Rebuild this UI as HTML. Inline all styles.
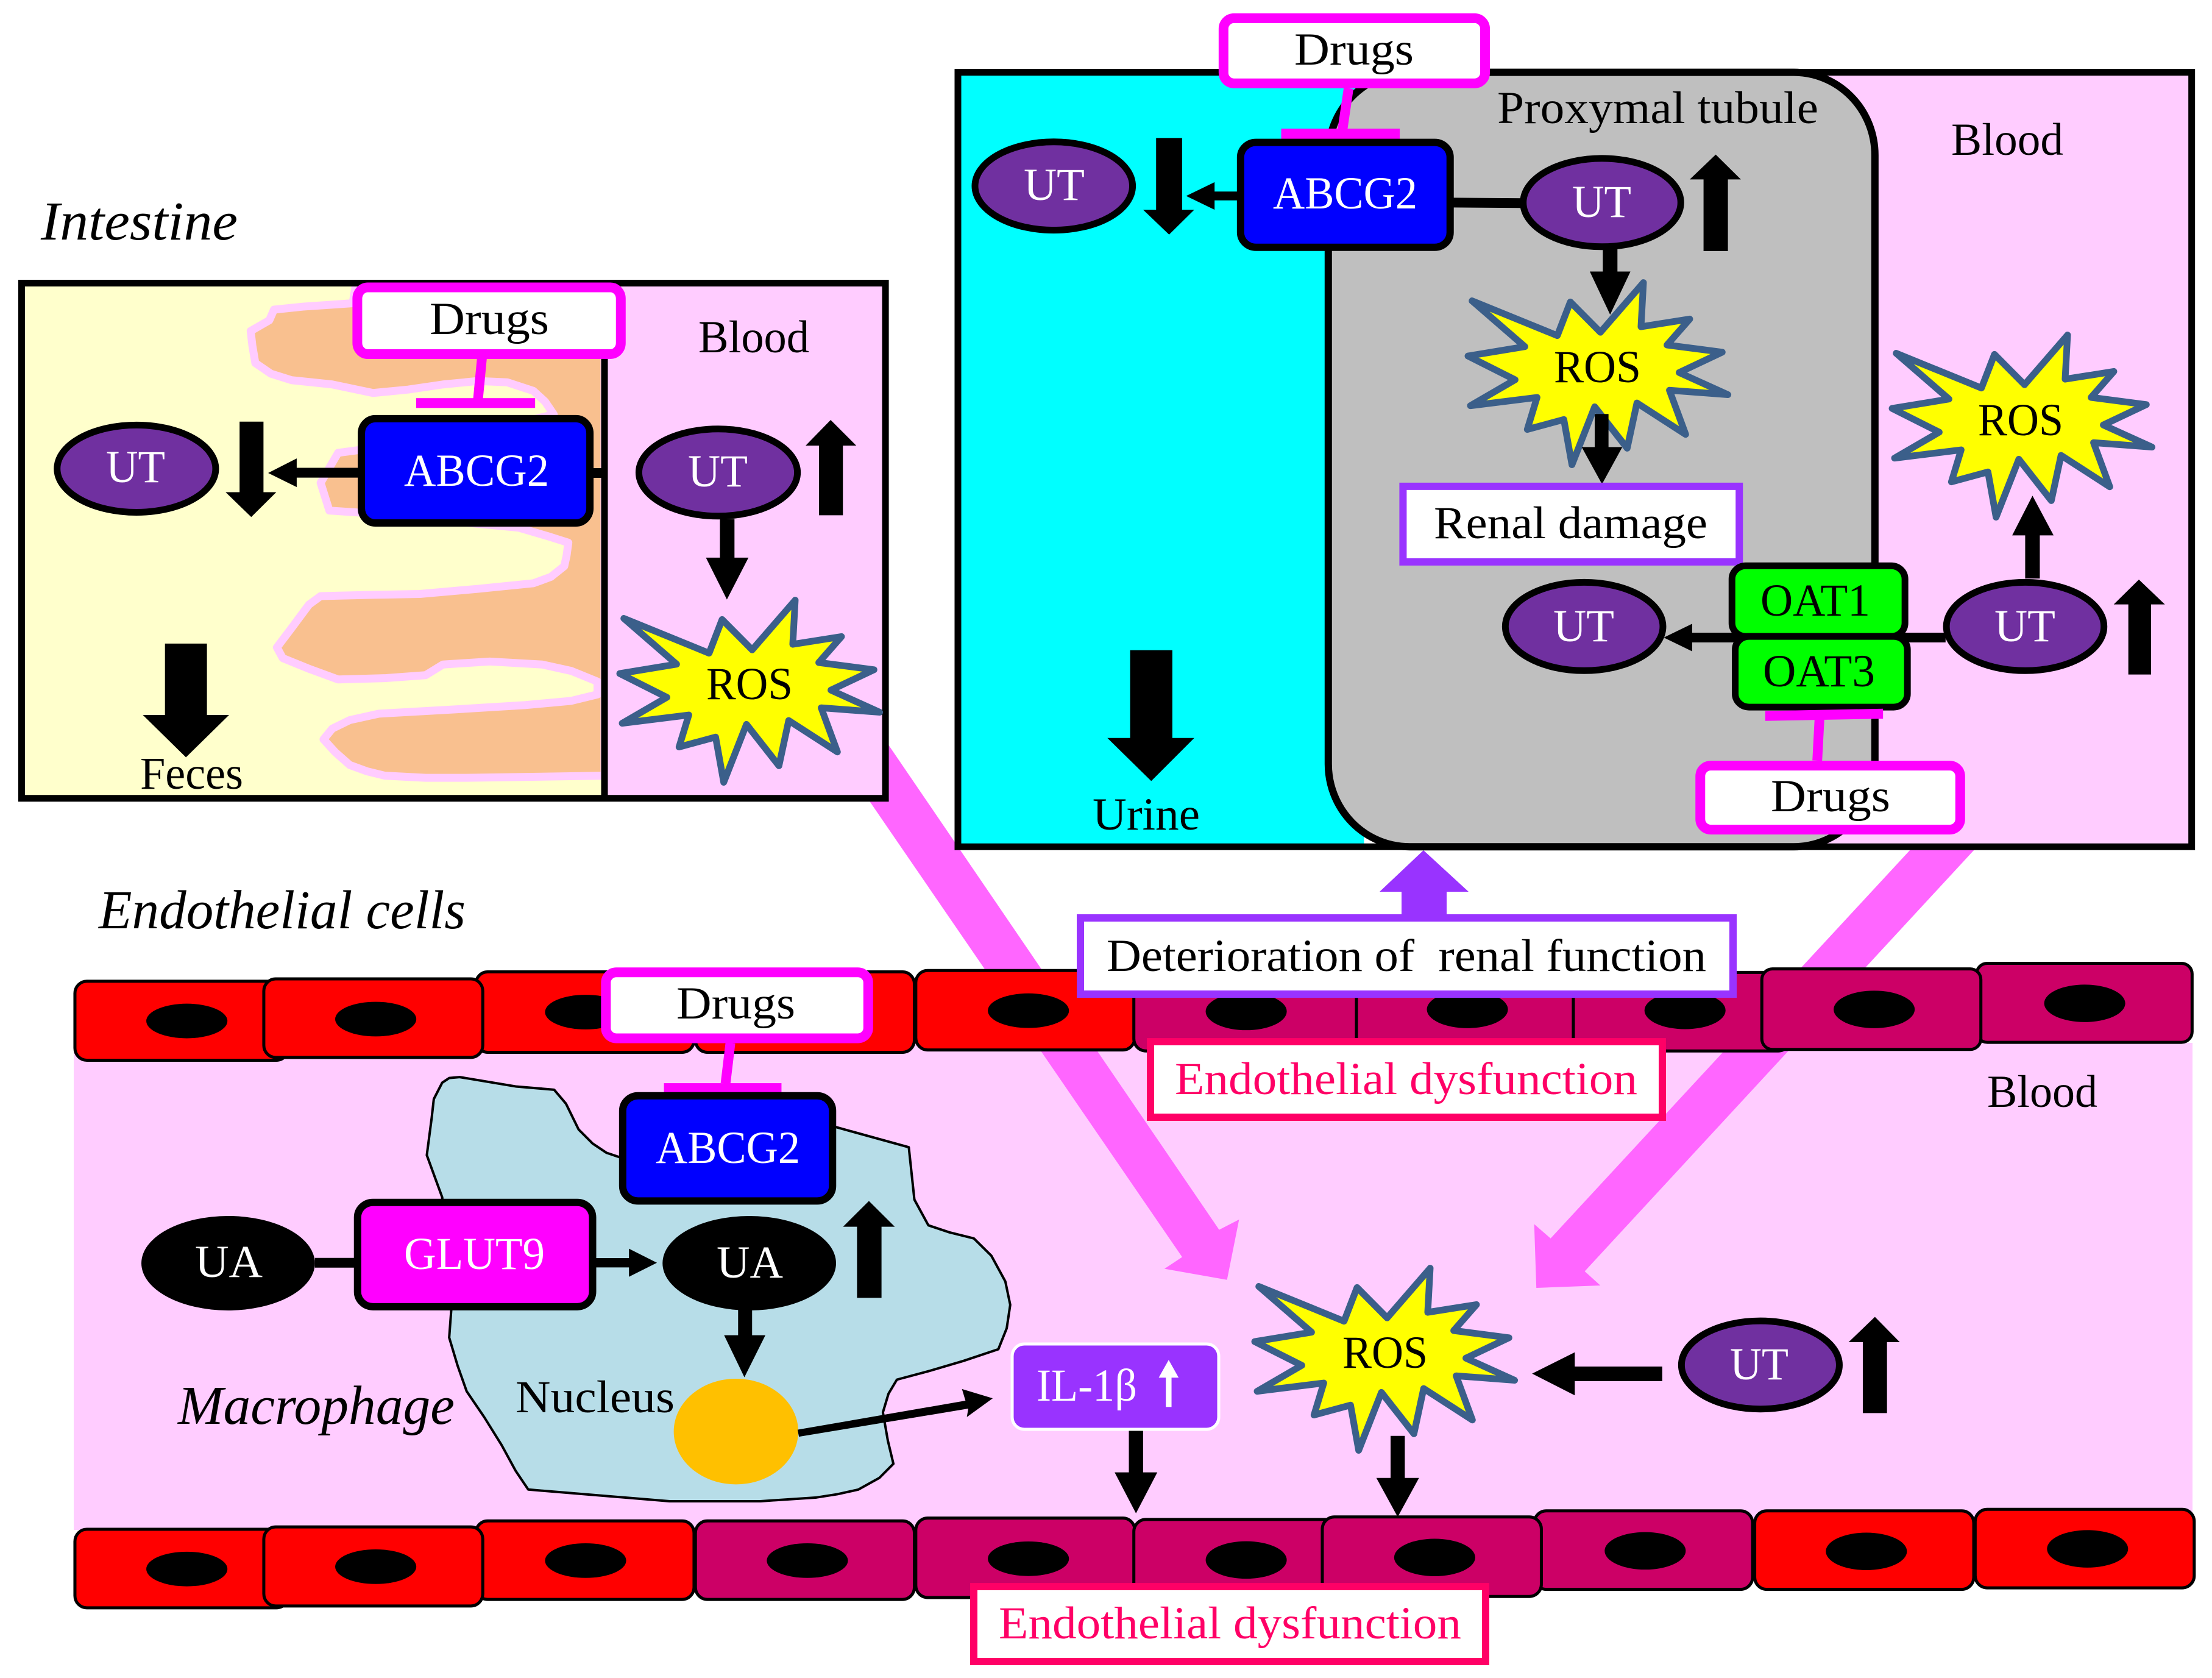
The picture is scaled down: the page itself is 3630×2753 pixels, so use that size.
<!DOCTYPE html>
<html><head><meta charset="utf-8"><style>
html,body{margin:0;padding:0;background:#fff}
svg{display:block}
svg *{vector-effect:non-scaling-stroke}
text{font-family:"Liberation Serif",serif;font-size:75px;fill:#000}
.i{font-style:italic;font-size:90px}
.w{fill:#fff}
.r{fill:#FF0066}
.u{fill:#7030A0;stroke:#000;stroke-width:11}
.a{fill:#000}
.d{fill:#fff;stroke:#FF00FF;stroke-width:16}
.m{fill:#FF00FF}
.s{fill:#FFFF00;stroke:#3B5F8A;stroke-width:11;stroke-linejoin:round}
.c{stroke:#000;stroke-width:5}
.red{fill:#FF0000}.pur{fill:#CC0066}
.b{fill:#0000FF;stroke:#000;stroke-width:12}
.g{fill:#00FF00;stroke:#000;stroke-width:11}
</style></head><body>
<svg xmlns="http://www.w3.org/2000/svg" width="3630" height="2753" viewBox="0 0 3630 2753">
<defs>
<polygon id="st" class="s" transform="matrix(1.3329,0,0,0.9056,1540,0)" points="657,545 762,608 778,547 815,602 868,512 865,592 925,578 897,625 965,638 912,675 972,715 900,707 920,787 860,730 848,812 808,737 780,842 770,760 725,778 737,720 655,735 710,688 652,645 722,628"/>
</defs>
<rect width="3630" height="2753" fill="#fff"/>
<!-- blood band -->
<rect x="121" y="1711" width="3477" height="799" fill="#FFCCFF"/>
<!-- large arrows -->
<polygon fill="#FF66FF" points="1400,1137 2000.7,2017.6 2033.4,2000.8 2013.6,2099.8 1910.9,2081.6 1940,2062.4 1345,1195"/>
<polygon fill="#FF66FF" points="3253,1380 2600.6,2085.7 2626.3,2109 2521.2,2113 2517.7,2008.4 2544.6,2031.7 3148,1380"/>
<polygon fill="#9933FF" points="2336,1395 2410,1463 2374,1463 2374,1510 2300,1510 2300,1463 2264,1463"/>

<!-- cells left -->
<g transform="matrix(1.148,0,0,0.7672,100,1550)">
<g class="c">
<rect class="red" x="20" y="78" width="305" height="169" rx="17" ry="26"/>
<rect class="red" x="593" y="58" width="312" height="172" rx="17" ry="26"/>
<rect class="red" x="290" y="73" width="313" height="168" rx="17" ry="26"/>
<rect class="red" x="907" y="58" width="313" height="172" rx="17" ry="26"/>
<rect class="red" x="1222" y="55" width="313" height="170" rx="17" ry="26"/>
<rect class="red" x="20" y="1250" width="305" height="168" rx="17" ry="26"/>
<rect class="red" x="593" y="1232" width="312" height="168" rx="17" ry="26"/>
<rect class="red" x="290" y="1245" width="313" height="169" rx="17" ry="26"/>
<rect class="pur" x="907" y="1232" width="313" height="168" rx="17" ry="26"/>
<rect class="pur" x="1222" y="1226" width="313" height="170" rx="17" ry="26"/>
</g>
<ellipse cx="180" cy="163" rx="58" ry="37"/><ellipse cx="450" cy="159" rx="58" ry="37"/><ellipse cx="750" cy="144" rx="58" ry="37"/><ellipse cx="1383" cy="141" rx="58" ry="37"/>
<ellipse cx="180" cy="1335" rx="58" ry="37"/><ellipse cx="450" cy="1330" rx="58" ry="37"/><ellipse cx="750" cy="1317" rx="58" ry="37"/><ellipse cx="1067" cy="1317" rx="58" ry="37"/><ellipse cx="1383" cy="1313" rx="58" ry="37"/>
</g>
<!-- cells right -->
<g transform="matrix(1.1671,0,0,0.831,1800,1450)">
<g class="c">
<rect class="pur" x="52" y="175" width="313" height="155" rx="17" ry="24"/>
<rect class="pur" x="365" y="175" width="305" height="155" rx="0" ry="0"/>
<rect class="pur" x="670" y="175" width="305" height="155" rx="17" ry="24"/>
<rect class="pur" x="1237" y="157" width="303" height="156" rx="15" ry="21"/>
<rect class="pur" x="935" y="168" width="308" height="159" rx="15" ry="21"/>
<rect class="pur" x="52" y="1255" width="288" height="155" rx="17" ry="24"/>
<rect class="pur" x="615" y="1238" width="307" height="155" rx="17" ry="24"/>
<rect class="pur" x="317" y="1250" width="308" height="157" rx="17" ry="24"/>
<rect class="red" x="925" y="1238" width="308" height="155" rx="17" ry="24"/>
<rect class="red" x="1235" y="1235" width="308" height="155" rx="17" ry="24"/>
</g>
<ellipse cx="210" cy="252" rx="57" ry="37"/><ellipse cx="521" cy="248" rx="57" ry="37"/><ellipse cx="827" cy="250" rx="57" ry="37"/><ellipse cx="1093" cy="248" rx="57" ry="37"/><ellipse cx="1389" cy="236" rx="57" ry="37"/>
<ellipse cx="210" cy="1335" rx="57" ry="37"/><ellipse cx="475" cy="1330" rx="57" ry="37"/><ellipse cx="771" cy="1317" rx="57" ry="37"/><ellipse cx="1082" cy="1318" rx="57" ry="37"/><ellipse cx="1393" cy="1313" rx="57" ry="37"/>
</g>

<!-- Intestine -->
<g transform="matrix(0.9566,0,0,0.7015,0,280)">
<rect x="37" y="263" width="1000" height="1205" fill="#FFFFCC"/>
<rect x="1037" y="263" width="482" height="1205" fill="#FFCCFF"/>
<path fill="#F9C08F" stroke="#FFCCFF" stroke-width="13" stroke-linejoin="round" d="M605,310L520,318L470,325L462,350L430,375L433,410L438,450L465,475L500,490L570,500L640,520L700,512L760,500L820,492L870,495L915,515L935,540L950,570L800,620L580,660L550,730L565,795L620,800L890,835L940,855L975,870L972,900L968,925L945,950L915,965L820,978L720,990L640,992L550,995L530,1015L500,1070L475,1115L485,1140L530,1165L580,1190L660,1187L730,1180L760,1155L840,1148L930,1155L980,1170L1025,1195L1025,1225L980,1240L900,1250L780,1260L650,1270L600,1285L570,1305L555,1330L575,1360L600,1390L630,1405L660,1415L730,1420L800,1420L1037,1415L1037,270L610,270Z"/>
<rect x="37" y="263" width="1482" height="1205" fill="none" stroke="#000" stroke-width="11"/>
<line x1="1037" y1="263" x2="1037" y2="1468" stroke="#000" stroke-width="11"/>
<line x1="1015" y1="707" x2="1037" y2="707" stroke="#000" stroke-width="16"/>
<line x1="827" y1="435" x2="820" y2="535" stroke="#FF00FF" stroke-width="16"/>
<rect class="m" x="714" y="532" width="204" height="23"/>
<rect class="d" x="613" y="273" width="452" height="156" rx="18" ry="26"/>
<rect class="b" x="620" y="580" width="392" height="244" rx="24" ry="34"/>
<ellipse class="u" cx="234" cy="697" rx="136" ry="102"/>
<polygon class="a" points="411,587 452,587 452,752 474,752 431,810 387,752 411,752"/>
<polygon class="a" points="615,695 509,695 509,673 460,707 509,740 509,718 615,718"/>
<ellipse class="u" cx="1232" cy="706" rx="136" ry="102"/>
<polygon class="a" points="1405,806 1446,806 1446,643 1469,643 1425,583 1382,643 1405,643"/>
<polygon class="a" points="283,1106 355,1106 355,1273 393,1273 319,1372 245,1273 283,1273"/>
</g>
<use href="#st" transform="translate(-1392,521)"/>
<g transform="matrix(0.9566,0,0,0.7015,0,280)">
<polygon class="a" points="1235,815 1260,815 1260,905 1284,905 1247,1003 1211,905 1235,905"/>
</g>

<!-- Kidney -->
<g transform="matrix(1.3329,0,0,0.9056,1540,0)">
<rect x="24" y="131" width="500" height="1403" fill="#00FFFF"/>
<rect x="1000" y="131" width="543" height="1403" fill="#FFCCFF"/>
<rect x="480" y="131" width="673" height="1403" rx="100" ry="150" fill="#BFBFBF" stroke="#000" stroke-width="12"/>
<rect x="24" y="131" width="1519" height="1403" fill="none" stroke="#000" stroke-width="11"/>
<line x1="505" y1="160" x2="497" y2="240" stroke="#FF00FF" stroke-width="16"/>
<rect class="m" x="422" y="233" width="146" height="19"/>
<rect class="d" x="351" y="33" width="322" height="118" rx="13" ry="19"/>
<line x1="632" y1="367" x2="720" y2="368" stroke="#000" stroke-width="16"/>
<rect class="b" x="372" y="258" width="258" height="190" rx="19" ry="27"/>
<ellipse class="u" cx="142" cy="337" rx="97" ry="80"/>
<polygon class="a" points="268,250 300,250 300,380 315,380 284,425 252,380 268,380"/>
<polygon class="a" points="370,347 340,347 340,330 305,355 340,380 340,363 370,363"/>
<ellipse class="u" cx="817" cy="367" rx="97" ry="80"/>
<polygon class="a" points="942,455 972,455 972,325 988,325 957,280 925,325 942,325"/>
</g>
<use href="#st"/><use href="#st" transform="translate(696,86)"/>
<g transform="matrix(1.3329,0,0,0.9056,1540,0)">
<polygon class="a" points="818,450 836,450 836,492 852,492 827,570 802,492 818,492"/>
<polygon class="a" points="808,750 825,750 825,810 842,810 817,877 792,810 808,810"/>
<rect x="572" y="881" width="414" height="137" fill="#fff" stroke="#9933FF" stroke-width="12"/>
<line x1="925" y1="1155" x2="1240" y2="1155" stroke="#000" stroke-width="16"/>
<polygon class="a" points="928,1130 928,1180 893,1155"/>
<rect class="g" x="977" y="1025" width="213" height="128" rx="17" ry="24"/>
<rect class="g" x="981" y="1153" width="212" height="128" rx="17" ry="24"/>
<ellipse class="u" cx="795" cy="1135" rx="97" ry="80"/>
<ellipse class="u" cx="1338" cy="1135" rx="97" ry="80"/>
<polygon class="a" points="1465,1222 1493,1222 1493,1095 1510,1095 1478,1050 1447,1095 1465,1095"/>
<polygon class="a" points="1338,1048 1356,1048 1356,970 1373,970 1347,898 1322,970 1338,970"/>
<line x1="1085" y1="1295" x2="1082" y2="1378" stroke="#FF00FF" stroke-width="16"/>
<polygon class="m" points="1018,1288 1163,1284 1163,1302 1018,1306"/>
<rect class="d" x="938" y="1387" width="320" height="116" rx="13" ry="19"/>
<polygon class="a" points="236,1178 288,1178 288,1337 315,1337 262,1415 208,1337 236,1337"/>
</g>

<!-- Blood vessel contents -->
<g transform="matrix(1.148,0,0,0.7672,100,1550)">
<path fill="#B7DDE8" stroke="#000" stroke-width="4" stroke-linejoin="round" d="M570,283L650,303L705,310L722,340L740,395L760,425L780,445L800,455L1108,390L1212,433L1220,545L1240,600L1270,615L1305,628L1330,665L1350,720L1357,770L1352,820L1340,865L1290,890L1240,912L1195,930L1183,960L1175,1000L1182,1060L1190,1110L1170,1140L1140,1165L1110,1175L1080,1182L1000,1190L870,1190L668,1165L650,1125L630,1070L605,1010L580,955L567,900L555,840L558,780L545,540L523,450L530,370L533,330L545,295L555,285Z"/>
<line x1="957" y1="210" x2="950" y2="297" stroke="#FF00FF" stroke-width="16"/>
<rect class="m" x="862" y="296" width="168" height="20"/>
<rect class="d" x="779" y="59" width="375" height="141" rx="15" ry="22"/>
<rect class="b" x="803" y="323" width="300" height="225" rx="22" ry="32"/>
<line x1="363" y1="680" x2="422" y2="680" stroke="#000" stroke-width="16"/>
<ellipse cx="239" cy="681" rx="124" ry="101"/>
<rect x="424" y="551" width="336" height="223" rx="22" ry="32" fill="#FF00FF" stroke="#000" stroke-width="12"/>
<polygon class="a" points="763,670 812,670 812,650 852,680 812,710 812,690 763,690"/>
<ellipse cx="984" cy="681" rx="124" ry="101"/>
<polygon class="a" points="1138,755 1173,755 1173,603 1192,603 1155,548 1118,603 1138,603"/>
<polygon class="a" points="968,780 988,780 988,835 1007,835 977,925 948,835 968,835"/>
<ellipse cx="965" cy="1041" rx="89" ry="113" fill="#FFC000"/>
<polygon class="a" points="1053,1037 1293,975 1288,950 1332,970 1295,1010 1297,992 1055,1052"/>
</g>
<use href="#st" transform="translate(-350,1617)"/>
<rect x="1661" y="2205" width="339" height="140" rx="20" ry="20" fill="#9933FF" stroke="#fff" stroke-width="5"/>
<g transform="matrix(1.1671,0,0,0.831,1800,1450)">
<polygon class="a" points="45,1080 65,1080 65,1162 85,1162 55,1243 25,1162 45,1162"/>
<polygon class="a" points="413,1090 433,1090 433,1173 453,1173 423,1250 393,1173 413,1173"/>
<polygon class="a" points="795,953 672,953 672,925 612,967 672,1010 672,982 795,982"/>
<ellipse class="u" cx="933" cy="950" rx="111" ry="87"/>
<polygon class="a" points="1077,1045 1111,1045 1111,905 1129,905 1094,855 1057,905 1077,905"/>
<polygon points="97,1033 105,1033 105,975 115,975 101,940 87,975 97,975" fill="#fff"/>
</g>
<rect x="1888" y="1709" width="840" height="124" fill="#fff" stroke="#FF0066" stroke-width="12"/>
<rect x="1773" y="1506" width="1071" height="125" fill="#fff" stroke="#9933FF" stroke-width="12"/>
<rect x="1598" y="2603" width="840" height="123" fill="#fff" stroke="#FF0066" stroke-width="12"/>

<!-- Texts -->
<text class="i" x="67" y="393" textLength="323" lengthAdjust="spacingAndGlyphs">Intestine</text>
<text x="705" y="548" textLength="196" lengthAdjust="spacingAndGlyphs">Drugs</text>
<text x="1146" y="578" textLength="182" lengthAdjust="spacingAndGlyphs">Blood</text>
<text class="w" x="174" y="791" textLength="97" lengthAdjust="spacingAndGlyphs">UT</text>
<text class="w" x="663" y="797" textLength="238" lengthAdjust="spacingAndGlyphs">ABCG2</text>
<text class="w" x="1129" y="798" textLength="98" lengthAdjust="spacingAndGlyphs">UT</text>
<text x="1159" y="1147" textLength="142" lengthAdjust="spacingAndGlyphs">ROS</text>
<text x="230" y="1294" textLength="169" lengthAdjust="spacingAndGlyphs">Feces</text>

<text x="2124" y="106" textLength="196" lengthAdjust="spacingAndGlyphs">Drugs</text>
<text x="2457" y="202" textLength="527" lengthAdjust="spacingAndGlyphs">Proxymal tubule</text>
<text x="3202" y="254" textLength="184" lengthAdjust="spacingAndGlyphs">Blood</text>
<text class="w" x="1680" y="328" textLength="100" lengthAdjust="spacingAndGlyphs">UT</text>
<text class="w" x="2089" y="342" textLength="237" lengthAdjust="spacingAndGlyphs">ABCG2</text>
<text class="w" x="2580" y="356" textLength="97" lengthAdjust="spacingAndGlyphs">UT</text>
<text x="2550" y="627" textLength="143" lengthAdjust="spacingAndGlyphs">ROS</text>
<text x="2353" y="883" textLength="449" lengthAdjust="spacingAndGlyphs">Renal damage</text>
<text x="2889" y="1010" textLength="180" lengthAdjust="spacingAndGlyphs">OAT1</text>
<text x="2893" y="1126" textLength="184" lengthAdjust="spacingAndGlyphs">OAT3</text>
<text class="w" x="2549" y="1052" textLength="100" lengthAdjust="spacingAndGlyphs">UT</text>
<text class="w" x="3273" y="1052" textLength="100" lengthAdjust="spacingAndGlyphs">UT</text>
<text x="3246" y="714" textLength="140" lengthAdjust="spacingAndGlyphs">ROS</text>
<text x="2906" y="1331" textLength="196" lengthAdjust="spacingAndGlyphs">Drugs</text>
<text x="1793" y="1361" textLength="176" lengthAdjust="spacingAndGlyphs">Urine</text>

<text class="i" x="162" y="1523" textLength="602" lengthAdjust="spacingAndGlyphs">Endothelial cells</text>
<text x="1110" y="1671" textLength="195" lengthAdjust="spacingAndGlyphs">Drugs</text>
<text class="w" x="1076" y="1908" textLength="237" lengthAdjust="spacingAndGlyphs">ABCG2</text>
<text class="w" x="320" y="2095" textLength="111" lengthAdjust="spacingAndGlyphs">UA</text>
<text class="w" x="663" y="2082" textLength="231" lengthAdjust="spacingAndGlyphs">GLUT9</text>
<text class="w" x="1176" y="2096" textLength="109" lengthAdjust="spacingAndGlyphs">UA</text>
<text x="846" y="2317" textLength="261" lengthAdjust="spacingAndGlyphs">Nucleus</text>
<text class="i" x="292" y="2336" textLength="454" lengthAdjust="spacingAndGlyphs">Macrophage</text>
<text class="w" x="1701" y="2298" textLength="165" lengthAdjust="spacingAndGlyphs">IL-1β</text>
<text x="1816" y="1593" textLength="984" lengthAdjust="spacingAndGlyphs" xml:space="preserve">Deterioration of  renal function</text>
<text class="r" x="1928" y="1795" textLength="759" lengthAdjust="spacingAndGlyphs">Endothelial dysfunction</text>
<text x="3261" y="1816" textLength="181" lengthAdjust="spacingAndGlyphs">Blood</text>
<text x="2203" y="2244" textLength="140" lengthAdjust="spacingAndGlyphs">ROS</text>
<text class="w" x="2839" y="2263" textLength="96" lengthAdjust="spacingAndGlyphs">UT</text>
<text class="r" x="1639" y="2688" textLength="759" lengthAdjust="spacingAndGlyphs">Endothelial dysfunction</text>
</svg>
</body></html>
